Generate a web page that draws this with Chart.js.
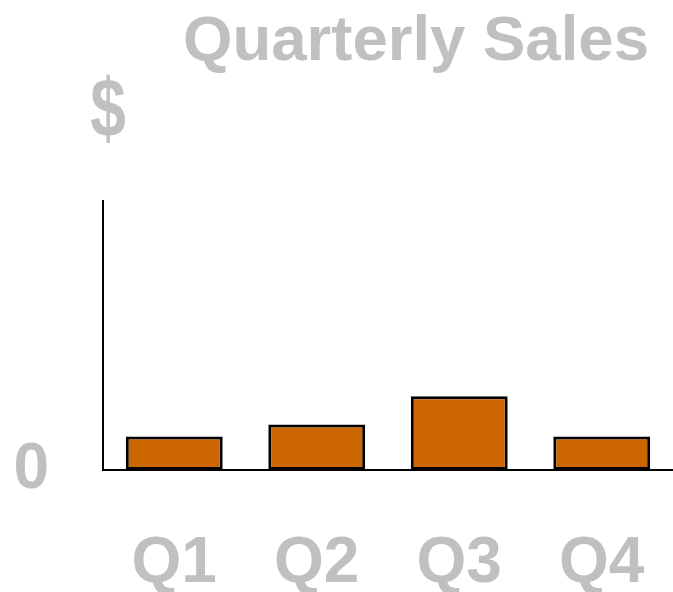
<!DOCTYPE html>
<html>
<head>
<meta charset="utf-8">
<script src="https://cdn.jsdelivr.net/npm/chart.js@4/dist/chart.umd.min.js"></script>
<style>
  html, body { margin: 0; padding: 0; background: #ffffff; overflow: hidden; }
  canvas { display: block; }
</style>
</head>
<body>
<canvas id="c" width="673" height="592"></canvas>
<script>
// ---- data ----
const chartTitle = "Quarterly Sales";
const yAxisLabel = "$";
const categories = ["Q1", "Q2", "Q3", "Q4"];
const salesValues = [12.5, 16.9, 27.4, 12.5];
const yTickValues = [0];
const yMin = 0;
const yMax = 100;

const GRAY = "#C0C0C0";
const FONT_FAMILY = "'Liberation Sans', Arial, Helvetica, sans-serif";

const textPlugin = {
  id: "textPlugin",
  afterDraw(chart) {
    const ctx = chart.ctx;
    ctx.save();
    ctx.fillStyle = GRAY;
    ctx.textBaseline = "alphabetic";
    ctx.textAlign = "center";
    ctx.font = "bold 63.5px " + FONT_FAMILY;
    ctx.fillText(chartTitle, 416, 59.5);
    ctx.restore();
    ctx.save();
    ctx.fillStyle = GRAY;
    ctx.textBaseline = "alphabetic";
    ctx.textAlign = "center";
    ctx.font = "bold 64px " + FONT_FAMILY;
    ctx.translate(108, 137);
    ctx.scale(1, 1.3);
    ctx.fillText(yAxisLabel, 0, 0);
    ctx.restore();
  }
};

new Chart(document.getElementById("c"), {
  type: "bar",
  data: {
    labels: categories,
    datasets: [{
      label: "Sales",
      data: salesValues,
      backgroundColor: "#CC6600",
      borderColor: "#000000",
      borderWidth: 3,
      borderSkipped: false,
      categoryPercentage: 1.0,
      barPercentage: 0.68
    }]
  },
  options: {
    responsive: false,
    animation: false,
    events: [],
    layout: { padding: { top: 201, right: 0, left: 0, bottom: 0 } },
    plugins: {
      legend: { display: false },
      title: { display: false },
      tooltip: { enabled: false }
    },
    scales: {
      x: {
        offset: true,
        grid: { display: false, drawTicks: false },
        border: { display: true, color: "#000000", width: 2 },
        ticks: {
          color: GRAY,
          padding: 56,
          maxRotation: 0,
          autoSkip: false,
          font: { family: FONT_FAMILY, size: 64, weight: "bold" }
        },
        afterFit(scale) {
          scale.height = 122;
          scale.paddingLeft = 0;
          scale.paddingRight = 0;
        }
      },
      y: {
        min: yMin,
        max: yMax,
        grid: { display: false, drawTicks: false },
        border: { display: true, color: "#000000", width: 2 },
        afterBuildTicks(scale) { scale.ticks = yTickValues.map(v => ({ value: v })); },
        ticks: {
          color: GRAY,
          padding: 54,
          font: { family: FONT_FAMILY, size: 64, weight: "bold" }
        },
        afterFit(scale) {
          scale.width = 103;
          scale.paddingTop = 0;
          scale.paddingBottom = 0;
        }
      }
    }
  },
  plugins: [textPlugin]
});
</script>
</body>
</html>
